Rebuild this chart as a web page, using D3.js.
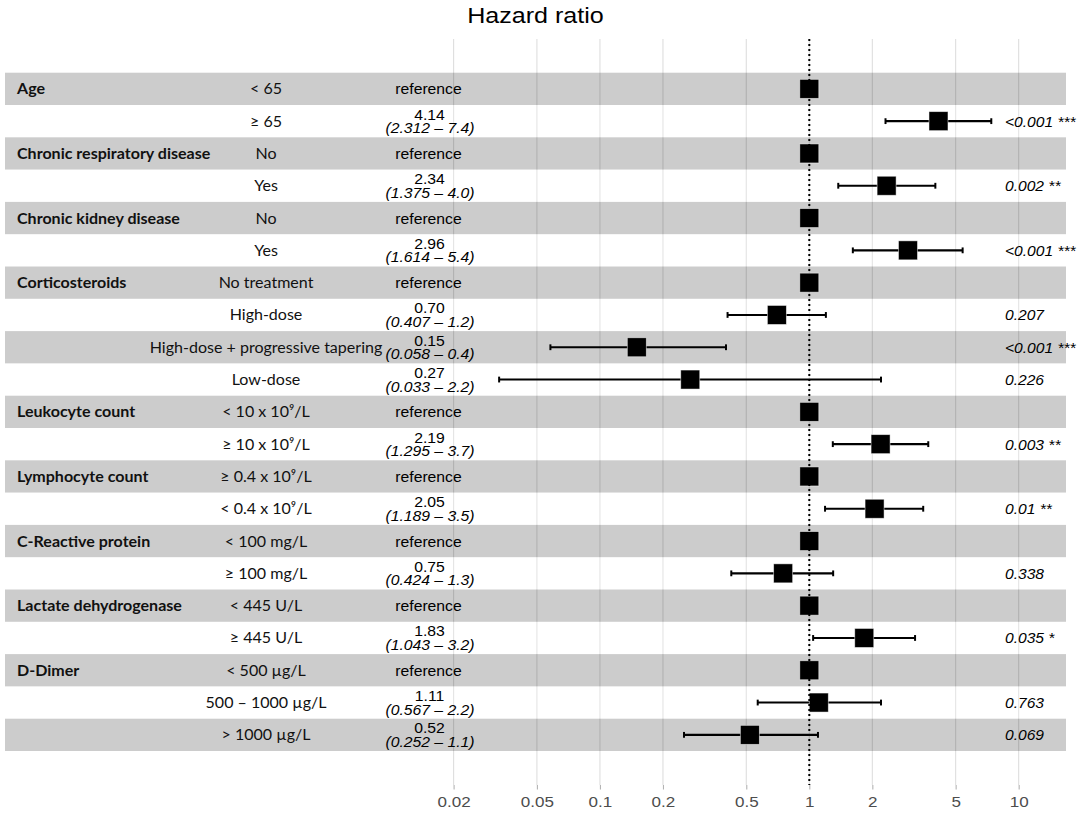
<!DOCTYPE html>
<html>
<head>
<meta charset="utf-8">
<script src="https://cdn.jsdelivr.net/npm/d3@7"></script>
<style>
  html, body { margin: 0; padding: 0; background: #fff; }
  svg { display: block; }
</style>
</head>
<body>
<svg id="chart" width="1084" height="813"></svg>
<script>
// ---------------- data ----------------
const variables = ["Age", "", "Chronic respiratory disease", "", "Chronic kidney disease", "",
  "Corticosteroids", "", "", "", "Leukocyte count", "", "Lymphocyte count", "",
  "C-Reactive protein", "", "Lactate dehydrogenase", "", "D-Dimer", "", ""];
const levels = ["< 65", "≥ 65", "No", "Yes", "No", "Yes",
  "No treatment", "High-dose", "High-dose + progressive tapering", "Low-dose",
  "< 10 x 10⁹/L", "≥ 10 x 10⁹/L", "≥ 0.4 x 10⁹/L", "< 0.4 x 10⁹/L",
  "< 100 mg/L", "≥ 100 mg/L", "< 445 U/L", "≥ 445 U/L",
  "< 500 µg/L", "500 – 1000 µg/L", "> 1000 µg/L"];
const hazardRatio = [1, 4.14, 1, 2.34, 1, 2.96, 1, 0.70, 0.15, 0.27, 1, 2.19, 1, 2.05, 1, 0.75, 1, 1.83, 1, 1.11, 0.52];
const ciLow  = [null, 2.312, null, 1.375, null, 1.614, null, 0.407, 0.058, 0.033, null, 1.295, null, 1.189, null, 0.424, null, 1.043, null, 0.567, 0.252];
const ciHigh = [null, 7.4, null, 4.0, null, 5.4, null, 1.2, 0.4, 2.2, null, 3.7, null, 3.5, null, 1.3, null, 3.2, null, 2.2, 1.1];
const estimateLabels = ["reference", "4.14", "reference", "2.34", "reference", "2.96", "reference", "0.70", "0.15", "0.27",
  "reference", "2.19", "reference", "2.05", "reference", "0.75", "reference", "1.83", "reference", "1.11", "0.52"];
const ciLabels = ["", "(2.312 – 7.4)", "", "(1.375 – 4.0)", "", "(1.614 – 5.4)", "", "(0.407 – 1.2)", "(0.058 – 0.4)", "(0.033 – 2.2)",
  "", "(1.295 – 3.7)", "", "(1.189 – 3.5)", "", "(0.424 – 1.3)", "", "(1.043 – 3.2)", "", "(0.567 – 2.2)", "(0.252 – 1.1)"];
const pLabels = ["", "<0.001 ***", "", "0.002 **", "", "<0.001 ***", "", "0.207", "<0.001 ***", "0.226",
  "", "0.003 **", "", "0.01 **", "", "0.338", "", "0.035 *", "", "0.763", "0.069"];
const tickValues = [0.02, 0.05, 0.1, 0.2, 0.5, 1, 2, 5, 10];
const tickLabels = ["0.02", "0.05", "0.1", "0.2", "0.5", "1", "2", "5", "10"];
const title = "Hazard ratio";

// ---------------- layout ----------------
const panel = { left: 5, right: 1066, top: 39, bottom: 785 };
const rowsTop = 72.7, rowsBottom = 751;
const hrDomain = [1.44e-4, 16.83];
const helv = "'Liberation Sans', Arial, Helvetica, sans-serif";
const lato = "Lato, 'Open Sans', sans-serif";

const svg = d3.select("#chart");
const n = levels.length;
const x = d3.scaleLog().domain(hrDomain).range([panel.left, panel.right]);
const y = d3.scaleBand().domain(d3.range(n)).range([rowsTop, rowsBottom]).paddingInner(0).paddingOuter(0);
const bw = y.bandwidth();
const cy = i => y(i) + bw / 2;

function txt(g, px, py, str, o) {
  return g.append("text")
    .attr("transform", `translate(${px},${py}) scale(${o.sx || 1.05},1)`)
    .attr("text-anchor", o.anchor || "start")
    .attr("font-family", o.family || helv)
    .attr("font-size", o.size || 15)
    .attr("font-weight", o.weight || "normal")
    .attr("font-style", o.style || "normal")
    .attr("fill", o.fill || "#000")
    .text(str);
}

// grid lines (under the bands)
svg.append("g").selectAll("line").data(tickValues).join("line")
  .attr("x1", d => x(d)).attr("x2", d => x(d))
  .attr("y1", panel.top).attr("y2", panel.bottom)
  .attr("stroke", "#dedede").attr("stroke-width", 1.1);

// alternating bands
svg.append("g").selectAll("rect").data(d3.range(n)).join("rect")
  .attr("x", panel.left).attr("width", panel.right - panel.left)
  .attr("y", i => y(i)).attr("height", bw)
  .attr("fill", i => i % 2 === 0 ? "#000" : "#fff")
  .attr("fill-opacity", 0.2);

// axis (bottom) ticks + labels
const axis = d3.axisBottom(x).tickValues(tickValues).tickFormat((d, i) => tickLabels[i]).tickSize(4.5).tickSizeOuter(0);
const ax = svg.append("g").attr("transform", `translate(0,${panel.bottom})`).call(axis);
ax.select(".domain").remove();
ax.selectAll(".tick line").attr("stroke", "#b3b3b3").attr("stroke-width", 1.1);
ax.selectAll(".tick text")
  .attr("font-family", helv).attr("font-size", 15.5).attr("fill", "#4d4d4d")
  .attr("dy", null).attr("y", 0)
  .attr("transform", `translate(0,22) scale(1.1,1)`);

// error bars
const eb = svg.append("g");
const ciRows = d3.range(n).filter(i => ciLow[i] != null);
eb.selectAll("line.ci").data(ciRows).join("line").attr("class", "ci")
  .attr("x1", i => x(ciLow[i])).attr("x2", i => x(ciHigh[i]))
  .attr("y1", i => cy(i)).attr("y2", i => cy(i))
  .attr("stroke", "#000").attr("stroke-width", 2.1);
const capH = bw * 0.18;
["lo", "hi"].forEach(k => {
  eb.selectAll("line.cap" + k).data(ciRows).join("line").attr("class", "cap" + k)
    .attr("x1", i => x(k === "lo" ? ciLow[i] : ciHigh[i])).attr("x2", i => x(k === "lo" ? ciLow[i] : ciHigh[i]))
    .attr("y1", i => cy(i) - capH / 2).attr("y2", i => cy(i) + capH / 2)
    .attr("stroke", "#000").attr("stroke-width", 2);
});

// points (filled squares)
const S = 19;
svg.append("g").selectAll("rect").data(d3.range(n)).join("rect")
  .attr("x", i => x(hazardRatio[i]) - S / 2).attr("y", i => cy(i) - S / 2)
  .attr("width", S).attr("height", S)
  .attr("fill", "#000").attr("stroke", "#fff").attr("stroke-opacity", 0.6).attr("stroke-width", 0.8);

// reference line at 1
svg.append("line")
  .attr("x1", x(1)).attr("x2", x(1)).attr("y1", panel.top).attr("y2", panel.bottom)
  .attr("stroke", "#000").attr("stroke-width", 2).attr("stroke-dasharray", "2,3");

// title
txt(svg, (panel.left + panel.right) / 2, 23, title, { anchor: "middle", size: 22, sx: 1.14 });

// table text
const tg = svg.append("g");
d3.range(n).forEach(i => {
  const c = cy(i);
  if (variables[i]) txt(tg, 17, c + 5.5, variables[i], { family: lato, weight: "bold", size: 15, sx: 1.07, fill: "#111" });
  txt(tg, 266, c + 5.5, levels[i], { family: lato, anchor: "middle", size: 15, sx: 1.07, fill: "#111" });
  if (estimateLabels[i] === "reference") {
    txt(tg, 428.5, c + 5.5, estimateLabels[i], { anchor: "middle" });
  } else {
    txt(tg, 429.5, c - 1.5, estimateLabels[i], { anchor: "middle" });
    txt(tg, 430, c + 12, ciLabels[i], { anchor: "middle", style: "italic" });
  }
  if (pLabels[i]) txt(tg, 1005, c + 5.5, pLabels[i], { style: "italic", sx: 1.04 });
});
</script>
</body>
</html>
